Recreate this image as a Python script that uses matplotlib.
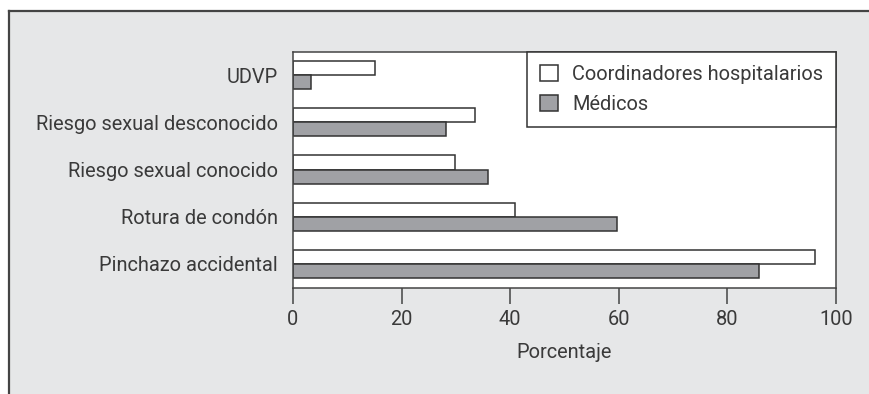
import numpy as np
import matplotlib
matplotlib.use("Agg")
import matplotlib.pyplot as plt
from matplotlib.patches import Rectangle
from matplotlib.lines import Line2D

# Data
categorias = ["UDVP", "Riesgo sexual desconocido", "Riesgo sexual conocido",
              "Rotura de condón", "Pinchazo accidental"]
coordinadores = [15.1, 33.6, 29.8, 40.8, 96.2]
medicos = [3.3, 28.2, 36.0, 59.7, 85.9]
series_labels = ["Coordinadores hospitalarios", "Médicos"]
xticks = [0, 20, 40, 60, 80, 100]

BG = "#e6e7e8"
GREY = "#a0a1a5"
EDGE = "#333333"
TXT = "#3a3a3a"
FS = 14.4

plt.rcParams['font.family'] = ['Roboto', 'DejaVu Sans']

fig = plt.figure(figsize=(8.7, 3.94), dpi=100)
fig.patch.set_facecolor("white")

# grey panel with left and top border lines
fx0, fy1 = 9 / 870, 1 - 11 / 394
fig.patches.append(Rectangle((fx0, 0), 1 - fx0, fy1, transform=fig.transFigure,
                             facecolor=BG, edgecolor="none", zorder=-10))
fig.lines.append(Line2D([fx0, fx0], [0, fy1], transform=fig.transFigure,
                        color="#444444", lw=1.6))
fig.lines.append(Line2D([fx0, 1], [fy1, fy1], transform=fig.transFigure,
                        color="#444444", lw=1.6))

ax = fig.add_axes([293 / 870, 1 - 287.5 / 394, (836 - 293) / 870, (287.5 - 51.5) / 394])
ax.set_facecolor("white")

y = np.arange(len(categorias))
h = 0.3
ax.barh(y - h / 2, coordinadores, height=h, color="white", edgecolor=EDGE,
        linewidth=1.1, label=series_labels[0])
ax.barh(y + h / 2, medicos, height=h, color=GREY, edgecolor=EDGE,
        linewidth=1.1, label=series_labels[1])

ax.set_ylim(4.5, -0.5)
ax.set_xlim(0, 100)
ax.set_yticks(y)
ax.set_yticklabels(categorias)
ax.set_xticks(xticks)

for s in ax.spines.values():
    s.set_color("#444444")
    s.set_linewidth(1.1)

ax.tick_params(axis="y", length=0, pad=11, labelsize=FS, labelcolor=TXT)
ax.tick_params(axis="x", length=11.5, width=1.1, color="#444444", pad=5,
               labelsize=FS, labelcolor=TXT)
ax.set_xlabel("Porcentaje", fontsize=FS, color=TXT, labelpad=10)

leg = ax.legend(loc="upper right", bbox_to_anchor=(1, 1), borderaxespad=0,
                fancybox=False, framealpha=1, edgecolor="#333333",
                fontsize=FS, handlelength=0.9, handleheight=0.85,
                handletextpad=0.7, borderpad=0.65, labelspacing=0.55)
leg.get_frame().set_linewidth(1.1)
for t in leg.get_texts():
    t.set_color(TXT)

fig.savefig("out.png", dpi=100, facecolor=fig.get_facecolor())
